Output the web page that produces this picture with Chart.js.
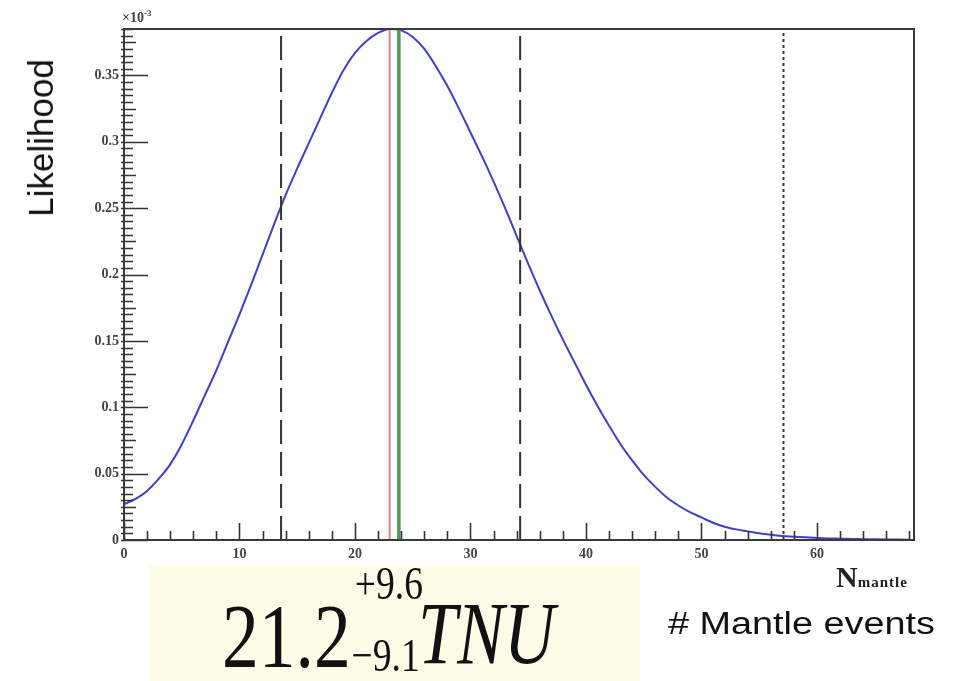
<!DOCTYPE html>
<html>
<head>
<meta charset="utf-8">
<script src="https://cdn.jsdelivr.net/npm/chart.js@4/dist/chart.umd.min.js"></script>
<style>
  html, body { margin:0; padding:0; background:#ffffff; }
  #wrap { position:relative; width:956px; height:681px; overflow:hidden; }
  #c { position:absolute; left:0; top:0; }
  .t { position:absolute; white-space:nowrap; color:#111; }
  #ytitle { font-family:"Liberation Sans", Arial, sans-serif; font-size:35px; left:41px; top:138px;
            transform:translate(-50%,-50%) rotate(-90deg); }
  #xtitle2 { font-family:"Liberation Sans", Arial, sans-serif; font-size:31px; left:668px; top:606px;
             transform-origin:0 0; transform:scaleX(1.22); }
  #box { position:absolute; left:150px; top:565px; width:490px; height:116px; background:#fdfce6; }
  #formula { position:absolute; left:222px; top:560px; font-family:"Liberation Serif","Times New Roman",serif;
             transform-origin:0 0; transform:scaleX(0.8); color:#111; }
  #nm { font-family:"Liberation Serif","Times New Roman",serif; font-weight:bold; font-size:30px; left:836px; top:560px; color:#222; }
  #nm span { font-size:15px; letter-spacing:1px; }
  #x103 { font-family:"Liberation Serif","Times New Roman",serif; font-weight:bold; font-size:14px; left:122px; top:8px; color:#444; }
  #x103 sup { font-size:9px; }
</style>
</head>
<body>
<div id="wrap">
  <div id="box"></div>
  <canvas id="c" width="956" height="681"></canvas>
  <div class="t" id="ytitle">Likelihood</div>
  <div class="t" id="x103">×10<sup>-3</sup></div>
  <div class="t" id="nm">N<span>mantle</span></div>
  <div class="t" id="xtitle2"># Mantle events</div>
  <div id="formula">
    <span style="position:absolute;left:0;top:30px;font-size:92px;line-height:1;">21.2</span>
    <span style="position:absolute;left:166px;top:0px;font-size:47px;line-height:1;">+9.6</span>
    <span style="position:absolute;left:162px;top:72px;font-size:47px;line-height:1;">−9.1</span>
    <span style="position:absolute;left:245px;top:30px;font-size:88px;line-height:1;font-style:italic;">TNU</span>
  </div>
</div>
<script>
// ---- data (likelihood in units of 1e-3) ----
const nMantle = [0,1,2,3,4,5,6,7,8,9,10,11,12,13,14,15,16,17,18,19,20,21,22,23,24,25,26,27,28,29,30,31,32,33,34,35,36,37,38,39,40,41,42,43,44,45,46,47,48,49,50,51,52,53,54,55,56,57,58,59,60,61,62,63,64,65,66,67,68];
const likelihood = [0.027,0.031,0.037,0.046,0.057,0.072,0.090,0.109,0.128,0.149,0.170,0.192,0.215,0.238,0.260,0.280,0.299,0.318,0.337,0.354,0.367,0.376,0.382,0.385,0.384,0.379,0.370,0.357,0.342,0.325,0.307,0.289,0.270,0.250,0.229,0.208,0.188,0.169,0.151,0.134,0.117,0.101,0.086,0.072,0.060,0.049,0.040,0.032,0.026,0.021,0.017,0.013,0.010,0.008,0.0065,0.005,0.004,0.003,0.0025,0.002,0.0015,0.0012,0.001,0.0008,0.0006,0.0005,0.0004,0.0003,0.0002];
const lowerBound = 13.6;    // dashed
const upperBound = 34.3;    // dashed
const limit90 = 57.1;       // dotted
const bestFitRed = 23.0;
const bestFitGreen = 23.8;
const xMax = 68.4;
const yMax = 0.385;
const xTickStep = 10;
const yTickStep = 0.05;

const curve = nMantle.map((x,i)=>({x:x, y:likelihood[i]}));
const vline = (x)=>[{x:x,y:0},{x:x,y:yMax}];

const tickFont = {family:"'Liberation Serif','Times New Roman',serif", weight:'bold', size:14};

const rootTicks = {
  id:'rootTicks',
  afterDatasetsDraw(chart){
    const {ctx, chartArea:a, scales:{x, y}} = chart;
    ctx.save();
    ctx.strokeStyle = '#333';
    ctx.lineWidth = 1.6;
    ctx.beginPath();
    for (let i=0; i*0.005 <= yMax+1e-9; i++){
      const v = i*0.005;
      const py = Math.round(y.getPixelForValue(v))+0.5;
      let len = 9;
      if (i%10===0) len = 24; else if (i%5===0) len = 12;
      ctx.moveTo(a.left-3, py); ctx.lineTo(a.left+len, py);
    }
    for (let v=0; v<=xMax; v+=2){
      const px = Math.round(x.getPixelForValue(v))+0.5;
      const len = (v%10===0) ? 17 : 9;
      ctx.moveTo(px, a.bottom); ctx.lineTo(px, a.bottom-len);
    }
    ctx.stroke();
    ctx.lineWidth = 2;
    ctx.strokeStyle = '#3a3a3a';
    ctx.strokeRect(a.left, a.top, a.right-a.left, a.bottom-a.top);
    ctx.restore();
  }
};

new Chart(document.getElementById('c'), {
  type:'line',
  data:{ datasets:[
    {data:vline(bestFitRed), borderColor:'#e08888', borderWidth:2, pointRadius:0},
    {data:vline(bestFitGreen), borderColor:'#4e9a55', borderWidth:3.5, pointRadius:0},
    {data:vline(lowerBound), borderColor:'#333', borderWidth:2, borderDash:[24,8], pointRadius:0},
    {data:vline(upperBound), borderColor:'#333', borderWidth:2, borderDash:[24,8], pointRadius:0},
    {data:vline(limit90), borderColor:'#333', borderWidth:2, borderDash:[3,3], pointRadius:0},
    {data:curve, borderColor:'#3f3fd0', borderWidth:2, pointRadius:0, cubicInterpolationMode:'monotone'}
  ]},
  options:{
    responsive:false, animation:false, devicePixelRatio:1,
    layout:{padding:{top:29, right:42, left:0, bottom:0}},
    plugins:{legend:{display:false}, tooltip:{enabled:false}},
    scales:{
      x:{type:'linear', min:0, max:xMax,
         afterFit(s){ s.height = 141; },
         grid:{display:false, drawTicks:false}, border:{display:false},
         ticks:{stepSize:xTickStep, includeBounds:false, padding:6, color:'#444', font:tickFont, maxRotation:0,
                callback:(v)=>String(v)}},
      y:{type:'linear', min:0, max:yMax,
         afterFit(s){ s.width = 124; },
         grid:{display:false, drawTicks:false}, border:{display:false},
         ticks:{stepSize:yTickStep, includeBounds:false, padding:5, color:'#444', font:tickFont,
                callback:(v)=>String(Number(v.toFixed(3)))}}
    }
  },
  plugins:[rootTicks]
});
</script>
</body>
</html>
